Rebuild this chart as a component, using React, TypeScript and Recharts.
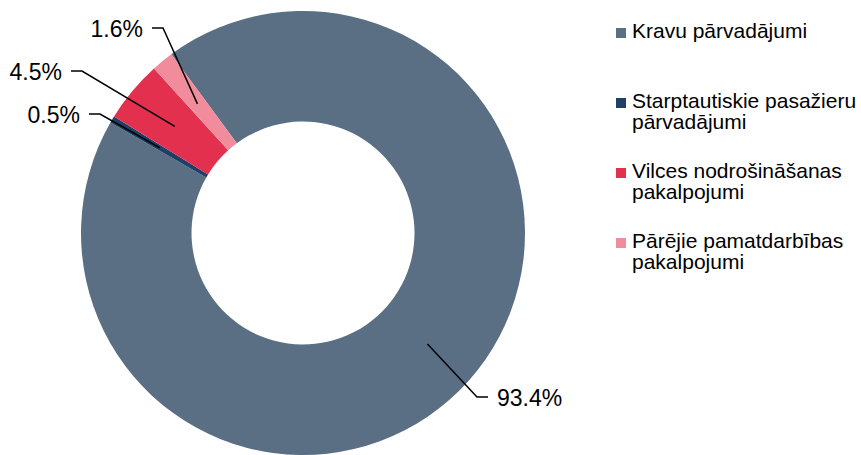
import React from "react";
import { PieChart, Pie, Cell } from "recharts";

const categories = [
    "Kravu pārvadājumi",
    "Starptautiskie pasažieru pārvadājumi",
    "Vilces nodrošināšanas pakalpojumi",
    "Pārējie pamatdarbības pakalpojumi",
];
const shares = [93.4, 0.5, 4.5, 1.6];
const colors = ["#5A6E84", "#1E3F66", "#E3304E", "#F08C9B"];

// where each leader line bends, as an offset from the pie centre
const labelElbows = [
    [174, 164],
    [-203, -119],
    [-221, -162],
    [-140, -205],
];

const FONT = '"Liberation Sans", Arial, sans-serif';
const RAD = Math.PI / 180;

const data = categories.map((name, i) => ({ name, value: shares[i] }));

function renderLabel(props: any) {
    const { cx, cy, midAngle, innerRadius, outerRadius, index, value } = props;
    const r = (innerRadius + outerRadius) / 2;
    const sx = cx + r * Math.cos(-midAngle * RAD);
    const sy = cy + r * Math.sin(-midAngle * RAD);
    const [dx, dy] = labelElbows[index];
    const ex = cx + dx;
    const ey = cy + dy;
    const dir = dx >= 0 ? 1 : -1;
    const hx = ex + dir * 11;
    return (
        <g>
            <polyline
                points={`${sx},${sy} ${ex},${ey} ${hx},${ey}`}
                fill="none"
                stroke="#000"
                strokeWidth={1.5}
            />
            <text
                x={hx + dir * 9}
                y={ey + 1}
                textAnchor={dir > 0 ? "start" : "end"}
                dominantBaseline="central"
                fill="#000"
                fontSize={23}
                fontFamily={FONT}
            >
                {`${value.toFixed(1)}%`}
            </text>
        </g>
    );
}

function LegendList() {
    return (
        <div
            style={{
                position: "absolute",
                left: 616,
                top: 20,
                width: 245,
                fontFamily: FONT,
                fontSize: 21,
                lineHeight: "21px",
                color: "#000",
            }}
        >
            {categories.map((name, i) => (
                <div key={name} style={{ display: "flex", alignItems: "flex-start", height: 70 }}>
                    <div
                        style={{
                            width: 10,
                            height: 10,
                            marginTop: 8,
                            marginRight: 6,
                            flex: "none",
                            background: colors[i],
                        }}
                    />
                    <div style={{ width: 229 }}>{name}</div>
                </div>
            ))}
        </div>
    );
}

export default function App() {
    return (
        <div style={{ position: "absolute", left: 0, top: 0, width: 861, height: 455 }}>
            <PieChart width={861} height={455} margin={{ top: 0, right: 0, bottom: 0, left: 0 }}>
                <Pie
                    data={data}
                    dataKey="value"
                    nameKey="name"
                    cx={303}
                    cy={233}
                    innerRadius={111.5}
                    outerRadius={222}
                    startAngle={126.4}
                    endAngle={-233.6}
                    stroke="none"
                    label={renderLabel}
                    labelLine={false}
                    isAnimationActive={false}
                >
                    {data.map((d, i) => (
                        <Cell key={d.name} fill={colors[i]} />
                    ))}
                </Pie>
            </PieChart>
            <LegendList />
        </div>
    );
}
